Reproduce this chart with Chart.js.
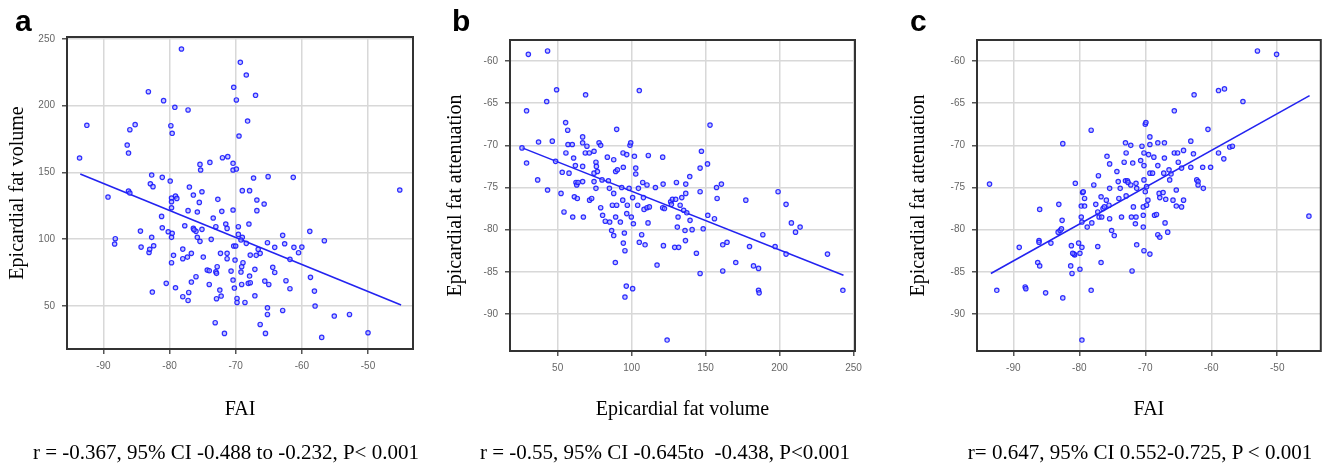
<!DOCTYPE html>
<html>
<head>
<meta charset="utf-8">
<script src="https://cdn.jsdelivr.net/npm/chart.js@4.4.1/dist/chart.umd.min.js"></script>
<style>
  html, body { margin: 0; padding: 0; background: #fff; }
  #wrap { position: relative; width: 1326px; height: 465px; overflow: hidden; }
  canvas { position: absolute; top: 0; }
  .letter { position: absolute; top: 6px; font: bold 30px "Liberation Sans", Arial, sans-serif; line-height: 30px; color: #000; }
  .caption { position: absolute; top: 442px; width: 520px; text-align: center; white-space: pre;
             font: 21px "Liberation Serif", "Times New Roman", serif; line-height: 21px; color: #000; }
</style>
</head>
<body>
<div id="wrap">
  <canvas id="chartA" width="440" height="465" style="left:0px"></canvas>
  <canvas id="chartB" width="440" height="465" style="left:440px"></canvas>
  <canvas id="chartC" width="446" height="465" style="left:880px"></canvas>
  <div class="letter" style="left:15px">a</div>
  <div class="letter" style="left:452px">b</div>
  <div class="letter" style="left:910px">c</div>
  <div class="caption" style="left:-34px">r = -0.367, 95% CI -0.488 to -0.232, P&lt; 0.001</div>
  <div class="caption" style="left:405px">r = -0.55, 95% CI -0.645to  -0.438, P&lt;0.001</div>
  <div class="caption" style="left:880px">r= 0.647, 95% CI 0.552-0.725, P &lt; 0.001</div>
</div>
<script>
// panel a: FAI vs epicardial fat volume
const faiA = [-78.2,-69.3,-68.4,-70.3,-69.9,-67.0,-83.2,-80.9,-79.2,-77.2,-68.2,-92.5,-85.2,-86.0,-79.8,-79.6,-69.5,-86.4,-86.2,-93.6,
  -72.0,-71.2,-73.9,-75.4,-75.3,-70.4,-70.4,-69.9,-82.7,-81.1,-79.9,-82.9,-82.5,-67.3,-65.1,-61.3,-45.2,-86.2,-86.0,-89.3,
  -77.0,-76.4,-79.1,-78.9,-79.7,-79.7,-75.1,-75.5,-72.7,-69.0,-67.9,-66.8,-66.8,-65.7,-79.7,-77.2,-75.8,-70.4,-72.1,-73.4,
  -81.2,-77.7,-76.4,-76.0,-75.8,-75.1,-81.1,-84.4,-80.2,-79.6,-79.7,-88.2,-88.3,-84.3,-83.1,-83.0,-82.7,-82.4,-78.0,-77.3,
  -78.0,-79.4,-79.7,-76.7,-76.0,-76.7,-80.5,-79.1,-82.6,-77.1,-78.0,-77.2,-74.9,-75.4,-74.3,-74.0,-73.0,-72.8,-74.0,-72.4,
  -72.2,-72.9,-73.7,-73.0,-71.5,-71.3,-72.3,-71.3,-71.3,-70.7,-70.3,-70.0,-69.6,-69.6,-69.0,-69.2,-70.1,-70.4,-70.2,-69.8,
  -69.8,-69.1,-68.9,-69.2,-69.1,-68.6,-68.4,-68.0,-67.8,-68.1,-67.9,-67.1,-66.9,-66.6,-66.3,-67.1,-66.3,-71.7,-73.1,-65.6,
  -65.0,-65.2,-65.2,-65.5,-65.2,-64.1,-64.4,-64.1,-62.9,-62.6,-62.4,-61.8,-61.8,-62.9,-61.2,-60.5,-60.0,-58.8,-56.6,-58.7,
  -58.1,-58.0,-57.0,-55.1,-52.8,-50.0,-76.3,-72.9,-67.8];
const volA = [242.5,232.5,223,213.8,204.3,207.8,210.5,203.8,198.8,196.8,188.5,185.3,185.8,182,185,179.3,177.3,170.5,164.5,160.8,
  161,161.8,157.5,156,151.8,156.8,151.8,152.5,148,146.3,143.5,141.5,139.3,145.8,146.8,146.3,136.8,136,134.5,131.5,
  139,133,132.3,130.5,130.8,128,135.5,127.5,129.8,136.3,136.3,129.3,121.3,126.3,123.5,121.3,120.3,121.8,120.8,115.8,
  117,110,108,105.8,101.3,107.3,108.5,106,105.5,104.3,101.3,100.3,96.3,94,90,92.3,101.3,95,92.5,86.5,
  85.3,87.8,82.3,89.3,71.8,67.8,66.8,63.5,60.3,60,56.8,54,86.5,98.3,76.8,76.3,75.5,79.3,66,61.8,
  57.3,55.3,99.8,109.3,111.3,108,89.3,89.3,85.3,76,94.8,94.8,109.3,103.5,101.3,99.3,84.3,69.3,63.3,55.5,
  52.5,79.3,82.3,75.3,66,52.5,96.8,111.3,88,66.8,72.3,77.3,87.8,92.3,89.3,57.5,36,29.3,37.3,68.5,
  66,48.5,43.5,29.3,97.3,93.8,78.8,75,102.8,96.5,68.8,84.8,62.8,46.5,93.8,89.8,94,105.8,98.8,71.3,
  61,49.8,26.3,42.3,43.5,29.8,107,74.3,67.3];
const fitA = { x: [-93.5, -45.0], y: [148.8, 50.5] };

// panel b: epicardial fat volume vs attenuation
const volB = [30.2,43.2,29.0,42.6,49.3,68.9,105.2,153.0,25.9,29.0,37.1,46.4,36.5,43.2,48.6,52.3,53.1,54.3,55.4,56.8,
  55.6,57.0,57.7,59.9,60.2,60.8,62.0,61.3,62.4,62.9,63.3,63.8,66.9,66.9,66.9,66.9,67.4,68.7,69.8,71.4,
  71.6,73.0,74.6,74.6,74.6,75.9,75.9,76.2,76.9,78.0,79.1,79.1,80.0,80.4,82.2,83.6,84.3,85.0,85.2,86.5,
  87.0,87.9,87.9,87.9,89.2,89.9,90.4,89.9,89.2,89.0,92.4,93.3,94.0,94.2,94.4,94.4,95.1,95.5,95.5,96.4,
  96.7,97.1,96.7,98.3,98.9,99.4,99.8,100.7,100.7,101.2,101.9,102.8,102.8,104.1,104.6,105.2,106.8,107.5,108.0,108.4,
  109.1,110.4,110.4,111.1,111.3,112.0,116.1,117.2,121.0,121.3,121.5,121.0,122.2,124.0,126.4,126.9,127.6,129.1,129.8,130.3,
  130.9,131.4,131.8,132.8,133.9,135.2,136.6,136.6,136.4,136.1,137.3,139.3,139.5,140.9,143.8,146.3,146.3,146.3,147.2,148.4,
  151.3,151.5,156.0,157.4,157.8,160.7,161.6,161.6,164.5,170.4,177.2,179.7,182.4,185.8,185.8,186.2,188.7,197.0,199.0,204.4,
  204.4,208.0,210.8,213.9,232.4,242.8];
const attB = [-59.2,-58.8,-65.9,-64.8,-63.4,-64.0,-63.5,-67.6,-70.3,-72.1,-69.6,-69.5,-74.1,-75.3,-71.9,-75.7,-73.2,-77.9,-67.3,-68.2,
  -70.9,-69.9,-73.3,-69.9,-78.5,-71.5,-72.4,-76.1,-74.4,-74.7,-76.3,-74.4,-69.0,-69.7,-72.5,-74.3,-78.5,-70.9,-70.1,-70.9,
  -76.5,-76.3,-70.7,-73.3,-74.3,-72.0,-75.1,-72.5,-73.1,-69.7,-70.0,-77.4,-74.1,-78.3,-79.0,-71.4,-74.2,-75.1,-79.1,-80.1,
  -77.1,-75.7,-71.7,-80.7,-73.1,-68.1,-72.9,-77.1,-78.5,-83.9,-79.1,-75.0,-76.5,-70.9,-72.6,-81.6,-80.4,-82.5,-88.0,-86.7,
  -71.1,-77.1,-78.1,-75.1,-70.0,-69.7,-78.5,-76.2,-87.0,-79.3,-71.3,-72.7,-73.4,-77.1,-75.1,-81.5,-80.6,-74.4,-76.2,-77.6,
  -81.8,-74.7,-77.4,-79.2,-71.2,-77.3,-75.0,-84.2,-71.4,-74.6,-81.9,-77.4,-77.5,-93.1,-76.7,-77.0,-76.4,-82.1,-76.4,-74.4,
  -79.7,-78.5,-82.1,-77.1,-76.2,-77.7,-74.6,-75.7,-81.3,-80.1,-78.0,-73.7,-78.9,-80.0,-82.8,-72.7,-75.5,-85.2,-70.7,-79.9,
  -72.2,-78.3,-78.7,-75.0,-76.3,-74.6,-81.8,-84.9,-81.5,-83.9,-76.5,-82.0,-84.3,-84.6,-87.2,-87.5,-80.6,-82.0,-75.5,-77.0,
  -82.9,-79.2,-80.3,-79.7,-82.9,-87.2];
const fitB = { x: [26.1, 243.2], y: [-70.3, -85.4] };

// panel c: FAI vs epicardial fat attenuation
const faiC = [-93.6,-92.5,-89.1,-88.2,-88.1,-86.0,-86.1,-86.1,-86.3,-86.0,-85.1,-84.3,-83.1,-83.2,-82.9,-82.7,-82.6,-82.5,-82.5,-81.2,
  -81.1,-81.3,-80.7,-80.6,-80.1,-79.9,-79.9,-79.6,-79.7,-79.6,-79.7,-79.6,-79.5,-79.4,-79.2,-79.2,-78.8,-78.2,-78.1,-78.2,
  -77.8,-77.5,-77.2,-77.1,-77.2,-77.0,-76.7,-76.6,-76.7,-76.4,-76.2,-75.9,-75.8,-75.5,-75.4,-75.4,-75.4,-75.1,-74.7,-74.3,
  -74.1,-74.0,-73.8,-73.6,-73.2,-73.0,-72.9,-73.0,-72.7,-72.9,-72.6,-72.2,-72.2,-72.1,-72.0,-71.9,-71.8,-71.5,-71.4,-71.3,
  -71.4,-71.3,-70.7,-70.5,-70.2,-70.2,-70.2,-70.3,-70.3,-70.3,-70.2,-70.0,-70.0,-69.9,-69.8,-69.8,-69.6,-69.3,-69.3,-69.3,
  -69.3,-68.9,-68.7,-68.6,-68.3,-68.1,-68.1,-67.9,-67.8,-68.1,-67.8,-67.3,-67.2,-67.1,-67.1,-66.9,-67.0,-66.6,-66.4,-66.3,
  -66.1,-65.8,-65.6,-65.6,-65.3,-65.1,-65.3,-65.0,-64.5,-64.5,-64.2,-64.2,-63.1,-63.1,-62.7,-62.6,-62.2,-62.0,-62.0,-61.3,
  -61.2,-60.5,-60.1,-58.9,-58.0,-58.9,-58.1,-57.2,-56.8,-55.2,-53.0,-50.1,-45.2,-69.5,-80.8,-81.0];
const attC = [-74.6,-87.2,-82.1,-86.8,-87.0,-77.6,-81.3,-81.5,-83.9,-84.3,-87.5,-81.6,-77.0,-80.3,-80.1,-79.9,-78.9,-69.8,-88.1,-81.9,
  -85.2,-84.3,-83.0,-74.5,-81.6,-82.8,-84.7,-82.1,-77.2,-93.1,-78.5,-79.1,-75.6,-75.5,-77.2,-76.3,-79.7,-68.2,-79.2,-87.2,
  -74.7,-77.0,-82.0,-73.6,-77.9,-78.5,-76.1,-78.5,-83.9,-77.5,-77.3,-76.5,-71.3,-77.1,-75.1,-72.2,-78.7,-80.1,-80.7,-73.1,
  -74.3,-76.3,-75.1,-78.5,-72.0,-69.7,-70.9,-74.2,-74.2,-76.0,-74.4,-70.0,-74.7,-78.5,-84.9,-72.1,-77.3,-79.3,-74.5,-75.1,
  -78.5,-81.8,-71.8,-70.1,-72.4,-70.9,-74.1,-77.3,-78.3,-79.7,-82.5,-75.5,-67.5,-67.3,-77.1,-74.9,-76.5,-69.9,-69.0,-73.3,
  -82.9,-73.3,-71.4,-78.3,-78.2,-69.7,-72.4,-75.7,-76.2,-80.6,-80.9,-75.6,-73.3,-69.7,-71.5,-76.4,-79.2,-80.3,-72.9,-74.1,
  -73.4,-76.5,-70.9,-65.9,-75.3,-70.9,-77.2,-72.0,-72.7,-77.3,-70.6,-76.5,-69.5,-72.6,-71.0,-64.0,-74.1,-74.3,-74.7,-72.6,
  -75.1,-68.1,-72.6,-63.5,-63.3,-70.9,-71.6,-70.2,-70.1,-64.8,-58.8,-59.2,-78.4,-71.1,-82.9,-82.8];
const fitC = { x: [-93.4, -45.1], y: [-85.2, -64.1] };

// tick labels shown on each axis
const ticksFai = [-90, -80, -70, -60, -50];
const ticksVol = [50, 100, 150, 200, 250];
const ticksAtt = [-90, -85, -80, -75, -70, -65, -60];

const pts = (xs, ys) => xs.map((x, i) => ({ x: x, y: ys[i] }));

const frame = {
  id: 'frame',
  afterDraw(chart) {
    const a = chart.chartArea, ctx = chart.ctx;
    ctx.save();
    ctx.strokeStyle = '#333';
    ctx.lineWidth = 2;
    ctx.strokeRect(a.left, a.top, a.right - a.left, a.bottom - a.top);
    ctx.restore();
  }
};

function makePanel(id, p) {
  const tickFont = { family: 'Liberation Sans', size: 10 };
  const titleFont = { family: 'Liberation Serif', size: 20 };
  const axis = (min, max, tickVals, title, pad, size, horiz) => ({
    type: 'linear',
    min: min, max: max,
    afterBuildTicks: s => { s.ticks = tickVals.map(v => ({ value: v })); },
    afterFit: s => { if (horiz) s.height = size; else s.width = size; },
    grid: { color: '#d8d8d8', lineWidth: 1.5, tickLength: 5, tickColor: '#555' },
    border: { display: false },
    ticks: { font: tickFont, color: '#666', padding: horiz ? 6 : 7, maxRotation: 0, callback: v => String(v) },
    title: { display: true, text: title, font: titleFont, color: '#000',
             padding: horiz ? { top: 0, bottom: pad } : { top: pad, bottom: 0 } }
  });
  new Chart(document.getElementById(id), {
    type: 'scatter',
    data: {
      datasets: [{
        data: pts(p.xs, p.ys),
        pointStyle: 'circle',
        pointRadius: 2.2,
        pointBorderWidth: 1.2,
        pointBorderColor: 'rgba(25,25,255,0.9)',
        pointBackgroundColor: 'rgba(150,150,255,0.55)'
      }, {
        type: 'line',
        data: pts(p.fit.x, p.fit.y),
        borderColor: '#2323f0',
        borderWidth: 1.6,
        pointRadius: 0
      }]
    },
    options: {
      responsive: false,
      animation: false,
      layout: { padding: { left: 0, top: p.top, right: p.right, bottom: 0 } },
      plugins: { legend: { display: false }, tooltip: { enabled: false } },
      scales: {
        x: axis(p.xMin, p.xMax, p.xTicks, p.xTitle, 43, 465 - p.bottom, true),
        y: axis(p.yMin, p.yMax, p.yTicks, p.yTitle, p.yTitlePad, p.left, false)
      }
    },
    plugins: [frame]
  });
}

makePanel('chartA', { xs: faiA, ys: volA, fit: fitA, xMin: -95.5, xMax: -43.2, yMin: 17.6, yMax: 251.5,
  xTicks: ticksFai, yTicks: ticksVol, xTitle: 'FAI', yTitle: 'Epicardial fat volume',
  left: 67, right: 27, top: 37, bottom: 349, yTitlePad: 6 });
makePanel('chartB', { xs: volB, ys: attB, fit: fitB, xMin: 17.8, xMax: 251, yMin: -94.4, yMax: -57.5,
  xTicks: ticksVol, yTicks: ticksAtt, xTitle: 'Epicardial fat volume', yTitle: 'Epicardial fat attenuation',
  left: 70, right: 25, top: 40, bottom: 351, yTitlePad: 4 });
makePanel('chartC', { xs: faiC, ys: attC, fit: fitC, xMin: -95.5, xMax: -43.4, yMin: -94.4, yMax: -57.5,
  xTicks: ticksFai, yTicks: ticksAtt, xTitle: 'FAI', yTitle: 'Epicardial fat attenuation',
  left: 97, right: 3, top: 40, bottom: 351, yTitlePad: 27 });
</script>
</body>
</html>
